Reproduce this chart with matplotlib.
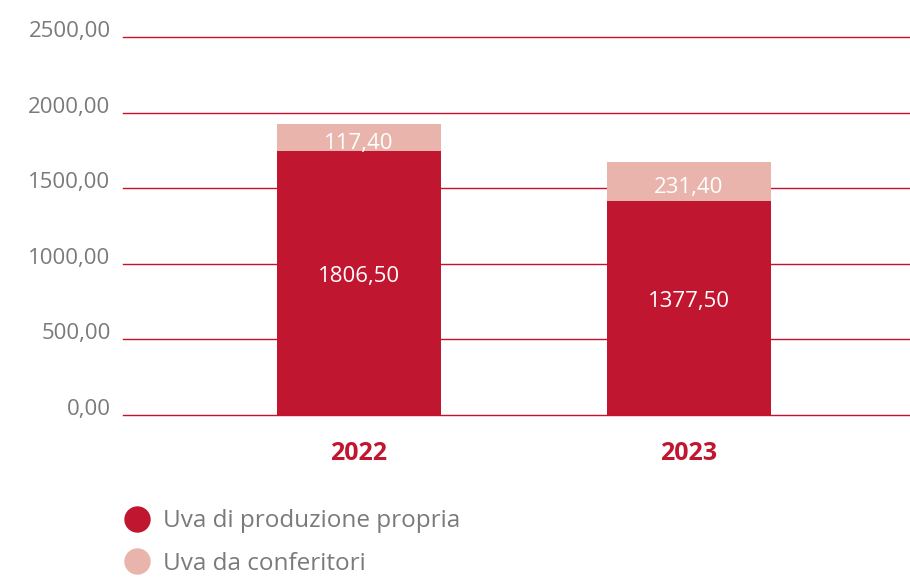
import matplotlib.pyplot as plt
from matplotlib.lines import Line2D

plt.rcParams['font.family'] = ['Open Sans', 'DejaVu Sans']

# dati
anni = ['2022', '2023']
propria = [1746, 1417]        # altezze
conferitori = [179, 256]
etichette_propria = ['1806,50', '1377,50']
etichette_conf = ['117,40', '231,40']
yticks = [0, 500, 1000, 1500, 2000, 2500]
serie = ['Uva di produzione propria', 'Uva da conferitori']

rosso = '#c1162f'
rosa = '#e8b4ac'
grigio = '#7a7a7a'

fig = plt.figure(figsize=(9.1, 5.79), dpi=100)
ax = fig.add_axes([0.1352, 0.2832, 0.8648, 0.6529])

x = [0, 1]
ax.bar(x, propria, width=0.497, color=rosso, zorder=3)
ax.bar(x, conferitori, width=0.497, bottom=propria, color=rosa, zorder=3)

for i in range(len(x)):
    ax.text(x[i], propria[i] / 2 + 40, etichette_propria[i], ha='center', va='center',
            color='white', fontsize=16, zorder=4)
    ax.text(x[i], propria[i] + conferitori[i] / 2 - 40, etichette_conf[i], ha='center',
            va='center', color='white', fontsize=16, zorder=4)

ax.set_xlim(-0.715, 1.67)
ax.set_ylim(0, 2500)
ax.set_yticks(yticks)
ax.set_yticklabels([f'{v},00' for v in yticks], color=grigio, fontsize=16)
ax.set_xticks(x)
ax.set_xticklabels(anni, color=rosso, fontsize=18, fontweight='bold')
ax.tick_params(axis='both', length=0)
ax.tick_params(axis='y', pad=9)
ax.tick_params(axis='x', pad=19)
for s in ax.spines.values():
    s.set_visible(False)
ax.yaxis.grid(True, color='#c8102e', linewidth=1.0, zorder=1)
for g in ax.get_ygridlines():
    g.set_clip_on(False)
for t in ax.get_yticklabels():
    t.set_va('baseline')

handles = [Line2D([], [], marker='o', color='none', markerfacecolor=rosso,
                  markeredgecolor='none', markersize=19),
           Line2D([], [], marker='o', color='none', markerfacecolor=rosa,
                  markeredgecolor='none', markersize=19)]
fig.legend(handles, serie, loc='upper left', bbox_to_anchor=(0.11, 0.158),
           frameon=False, fontsize=17.5, labelcolor=grigio, handletextpad=0.5,
           labelspacing=0.75, handlelength=1.2)

fig.savefig('out.png', dpi=100)
